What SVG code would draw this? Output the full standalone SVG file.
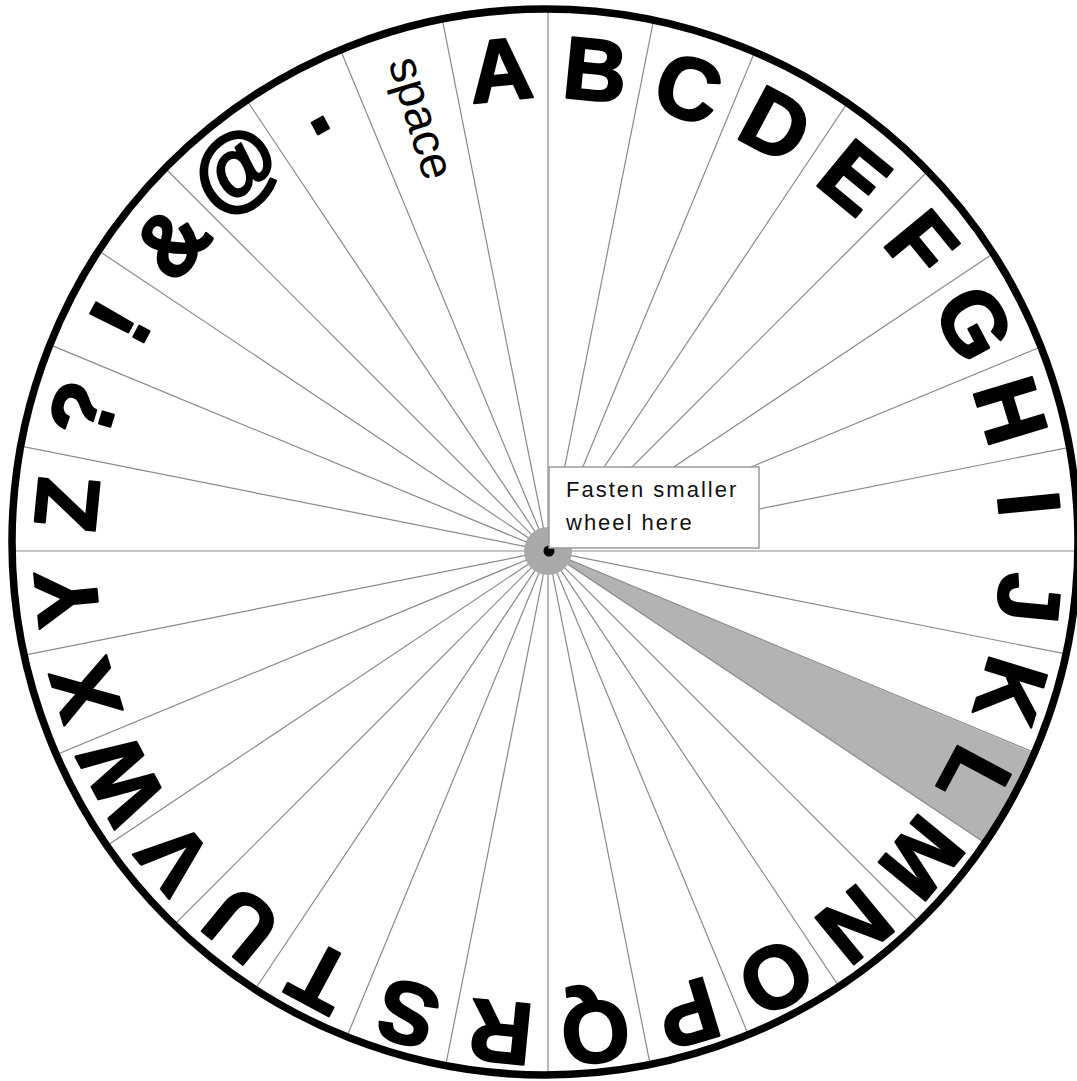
<svg xmlns="http://www.w3.org/2000/svg" width="1077" height="1081" viewBox="0 0 1077 1081">
<style>
.spoke{stroke:#8a8a8a;stroke-width:1.2;fill:none}
.lt{font-family:"Liberation Sans",Arial,sans-serif;font-weight:bold;font-size:88px;fill:#000;stroke:#000;stroke-width:2.2;stroke-linejoin:round;text-anchor:middle}
.sm{font-family:"Liberation Sans",Arial,sans-serif;font-size:47px;fill:#000;text-anchor:middle}
.note{font-family:"Liberation Sans",Arial,sans-serif;font-size:22px;fill:#111;letter-spacing:2px}
</style>
<defs>
<clipPath id="wheelClip"><circle cx="545" cy="542" r="533"/></clipPath>
</defs>
<rect width="1077" height="1081" fill="#fff"/>
<g id="wheel">
<g clip-path="url(#wheelClip)">
<polygon id="marker-wedge" points="548,551 1102.3,781.6 1047.0,884.3" fill="#b3b3b3"/>
<g id="spokes" class="spoke">
<line x1="548" y1="-49" x2="548" y2="1151"/>
<line x1="548" y1="-49" x2="548" y2="1151" transform="rotate(11.25 548 551)"/>
<line x1="548" y1="-49" x2="548" y2="1151" transform="rotate(22.5 548 551)"/>
<line x1="548" y1="-49" x2="548" y2="1151" transform="rotate(33.75 548 551)"/>
<line x1="548" y1="-49" x2="548" y2="1151" transform="rotate(45 548 551)"/>
<line x1="548" y1="-49" x2="548" y2="1151" transform="rotate(56.25 548 551)"/>
<line x1="548" y1="-49" x2="548" y2="1151" transform="rotate(67.5 548 551)"/>
<line x1="548" y1="-49" x2="548" y2="1151" transform="rotate(78.75 548 551)"/>
<line x1="548" y1="-49" x2="548" y2="1151" transform="rotate(90 548 551)"/>
<line x1="548" y1="-49" x2="548" y2="1151" transform="rotate(101.25 548 551)"/>
<line x1="548" y1="-49" x2="548" y2="1151" transform="rotate(112.5 548 551)"/>
<line x1="548" y1="-49" x2="548" y2="1151" transform="rotate(123.75 548 551)"/>
<line x1="548" y1="-49" x2="548" y2="1151" transform="rotate(135 548 551)"/>
<line x1="548" y1="-49" x2="548" y2="1151" transform="rotate(146.25 548 551)"/>
<line x1="548" y1="-49" x2="548" y2="1151" transform="rotate(157.5 548 551)"/>
<line x1="548" y1="-49" x2="548" y2="1151" transform="rotate(168.75 548 551)"/>
</g>
</g>
<circle id="rim" cx="545" cy="542" r="533" fill="none" stroke="#000" stroke-width="7.5"/>
<circle id="hub" cx="548" cy="551" r="24" fill="#a9a9a9"/>
<circle id="pin" cx="549" cy="551" r="5.5" fill="#000"/>
</g>
<g id="letters">
<text class="lt" x="548" y="98" transform="rotate(5.625 548 551)">B</text>
<text class="lt" x="548" y="98" transform="rotate(16.875 548 551)">C</text>
<text class="lt" x="548" y="98" transform="rotate(28.125 548 551)">D</text>
<text class="lt" x="548" y="98" transform="rotate(39.375 548 551)">E</text>
<text class="lt" x="548" y="98" transform="rotate(50.625 548 551)">F</text>
<text class="lt" x="548" y="98" transform="rotate(61.875 548 551)">G</text>
<text class="lt" x="548" y="98" transform="rotate(73.125 548 551)">H</text>
<text class="lt" x="548" y="98" transform="rotate(84.375 548 551)">I</text>
<text class="lt" x="548" y="98" transform="rotate(95.625 548 551)">J</text>
<text class="lt" x="548" y="98" transform="rotate(106.875 548 551)">K</text>
<text class="lt" x="548" y="98" transform="rotate(118.125 548 551)">L</text>
<text class="lt" x="548" y="98" transform="rotate(129.375 548 551)">M</text>
<text class="lt" x="548" y="98" transform="rotate(140.625 548 551)">N</text>
<text class="lt" x="548" y="98" transform="rotate(151.875 548 551)">O</text>
<text class="lt" x="548" y="98" transform="rotate(163.125 548 551)">P</text>
<text class="lt" x="548" y="98" transform="rotate(174.375 548 551)">Q</text>
<text class="lt" x="548" y="98" transform="rotate(185.625 548 551)">R</text>
<text class="lt" x="548" y="98" transform="rotate(196.875 548 551)">S</text>
<text class="lt" x="548" y="98" transform="rotate(208.125 548 551)">T</text>
<text class="lt" x="548" y="98" transform="rotate(219.375 548 551)">U</text>
<text class="lt" x="548" y="98" transform="rotate(230.625 548 551)">V</text>
<text class="lt" x="548" y="98" transform="rotate(241.875 548 551)">W</text>
<text class="lt" x="548" y="98" transform="rotate(253.125 548 551)">X</text>
<text class="lt" x="548" y="98" transform="rotate(264.375 548 551)">Y</text>
<text class="lt" x="548" y="98" transform="rotate(275.625 548 551)">Z</text>
<text class="lt" x="548" y="96" font-size="80" transform="rotate(286.875 548 551)">?</text>
<text class="lt" x="548" y="96" font-size="80" transform="rotate(298.125 548 551)">!</text>
<text class="lt" x="548" y="94" font-size="74" transform="rotate(309.375 548 551)">&amp;</text>
<text class="lt" x="548" y="86" font-size="80" stroke-width="1" transform="rotate(320.625 548 551)">@</text>
<text class="lt" x="548" y="75" font-size="100" stroke-width="5" transform="rotate(331.875 548 551)">.</text>
<text class="sm" x="0" y="11" transform="rotate(343.125 548 551) translate(548 100) rotate(90)">space</text>
<text class="lt" x="548" y="98" transform="rotate(354.375 548 551)">A</text>
</g>
<g id="callout">
<rect x="549" y="467" width="210" height="81" fill="#fff" stroke="#9a9a9a" stroke-width="1.5"/>
<text class="note" x="566" y="497">Fasten smaller</text>
<text class="note" x="566" y="530">wheel here</text>
</g>
</svg>
